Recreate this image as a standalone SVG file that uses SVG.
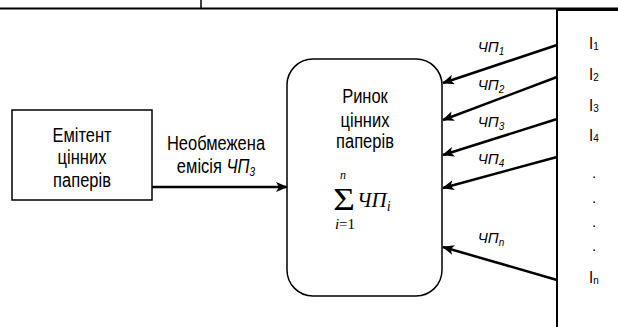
<svg xmlns="http://www.w3.org/2000/svg" width="618" height="327" viewBox="0 0 618 327">
  <defs>
    <marker id="arr" viewBox="0 0 12 10" refX="11" refY="5" markerWidth="12" markerHeight="10" markerUnits="userSpaceOnUse" orient="auto">
      <path d="M0,0 L12,5 L0,10 L3,5 Z" fill="#000"/>
    </marker>
  </defs>
  <style>
    .t { font-family: "Liberation Sans", Arial, sans-serif; font-size: 16.5px; fill: #000; text-anchor: middle; }
    .it { font-family: "Liberation Sans", Arial, sans-serif; font-size: 15px; font-style: italic; fill: #000; text-anchor: middle; }
    .sub { font-size: 10px; }
    .idx { font-family: "Liberation Sans", Arial, sans-serif; font-size: 15px; fill: #000; text-anchor: middle; }
    .box { fill: #fff; stroke: #000; stroke-width: 1.5; }
    .ln { stroke: #000; stroke-width: 2.5; fill: none; }
    .frame { stroke: #000; fill: none; }
    .serif { font-family: "Liberation Serif", "Times New Roman", serif; fill: #000; }
  </style>

  <!-- frame lines -->
  <g id="frame">
    <line class="frame" x1="0" y1="8.5" x2="618" y2="8.5" stroke-width="2"/>
    <line class="frame" x1="557" y1="9.5" x2="618" y2="9.5" stroke-width="3"/>
    <line class="frame" x1="201" y1="0" x2="201" y2="8" stroke-width="1.5"/>
    <line class="frame" x1="557" y1="9" x2="557" y2="327" stroke-width="2"/>
  </g>

  <!-- issuer (text stretched 1.2x vertically about its baseline) -->
  <g id="issuer">
    <rect class="box" x="12" y="110" width="140" height="90"/>
    <text class="t" x="82" y="142" transform="matrix(1 0 0 1.2 0 -28.4)">Емітент</text>
    <text class="t" x="82" y="164.5" transform="matrix(1 0 0 1.2 0 -32.9)">цінних</text>
    <text class="t" x="82" y="187" transform="matrix(1 0 0 1.2 0 -37.4)">паперів</text>
  </g>

  <!-- market -->
  <g id="market">
    <rect class="box" x="287" y="59" width="155" height="237" rx="26" ry="26"/>
    <text class="t" x="365" y="103.3" transform="matrix(1 0 0 1.2 0 -20.66)">Ринок</text>
    <text class="t" x="365" y="126.7" transform="matrix(1 0 0 1.2 0 -25.34)">цінних</text>
    <text class="t" x="365" y="148.3" transform="matrix(1 0 0 1.2 0 -29.66)">паперів</text>
    <text class="serif" x="343" y="178.5" font-size="12" font-style="italic" text-anchor="middle">n</text>
    <text class="serif" x="344" y="210" font-size="31" text-anchor="middle" transform="matrix(1.2 0 0 1 -68.8 0)">Σ</text>
    <text class="serif" x="345" y="229" font-size="15" text-anchor="middle"><tspan font-style="italic">i</tspan>=1</text>
    <text class="serif" x="357" y="207" font-size="21" font-style="italic">ЧП<tspan font-size="14" dy="4">i</tspan></text>
  </g>

  <!-- sources -->
  <g id="sources">
    <text class="idx" x="594" y="49" transform="matrix(1 0 0 1.15 0 -7.35)">I<tspan class="sub" dy="1">1</tspan></text>
    <text class="idx" x="594" y="80" transform="matrix(1 0 0 1.15 0 -12)">I<tspan class="sub" dy="1">2</tspan></text>
    <text class="idx" x="594" y="111" transform="matrix(1 0 0 1.15 0 -16.65)">I<tspan class="sub" dy="1">3</tspan></text>
    <text class="idx" x="594" y="141" transform="matrix(1 0 0 1.15 0 -21.15)">I<tspan class="sub" dy="1">4</tspan></text>
    <text class="idx" x="594" y="178">.</text>
    <text class="idx" x="594" y="203">.</text>
    <text class="idx" x="594" y="227">.</text>
    <text class="idx" x="594" y="251">.</text>
    <text class="idx" x="594" y="283" transform="matrix(1 0 0 1.15 0 -42.45)">I<tspan class="sub" dy="1">n</tspan></text>
  </g>

  <!-- connectors -->
  <g id="connectors">
    <line class="ln" x1="152" y1="187" x2="287" y2="187" marker-end="url(#arr)"/>
    <line class="ln" x1="557" y1="45" x2="443" y2="83" marker-end="url(#arr)"/>
    <line class="ln" x1="557" y1="77" x2="443" y2="120" marker-end="url(#arr)"/>
    <line class="ln" x1="557" y1="119" x2="443" y2="155" marker-end="url(#arr)"/>
    <line class="ln" x1="557" y1="157" x2="443" y2="188" marker-end="url(#arr)"/>
    <line class="ln" x1="557" y1="280" x2="443" y2="247" marker-end="url(#arr)"/>
  </g>

  <!-- connector labels -->
  <g id="labels">
    <text class="t" x="216" y="150" transform="matrix(1 0 0 1.2 0 -30)">Необмежена</text>
    <text class="t" x="216" y="172.7" transform="matrix(1 0 0 1.2 0 -34.54)">емісія <tspan font-style="italic">ЧП<tspan class="sub" dy="3">3</tspan></tspan></text>
    <text class="it" x="491" y="52">ЧП<tspan class="sub" dy="3">1</tspan></text>
    <text class="it" x="491" y="90">ЧП<tspan class="sub" dy="3">2</tspan></text>
    <text class="it" x="491" y="127">ЧП<tspan class="sub" dy="3">3</tspan></text>
    <text class="it" x="491" y="164">ЧП<tspan class="sub" dy="3">4</tspan></text>
    <text class="it" x="491" y="243">ЧП<tspan class="sub" dy="3">n</tspan></text>
  </g>
</svg>
